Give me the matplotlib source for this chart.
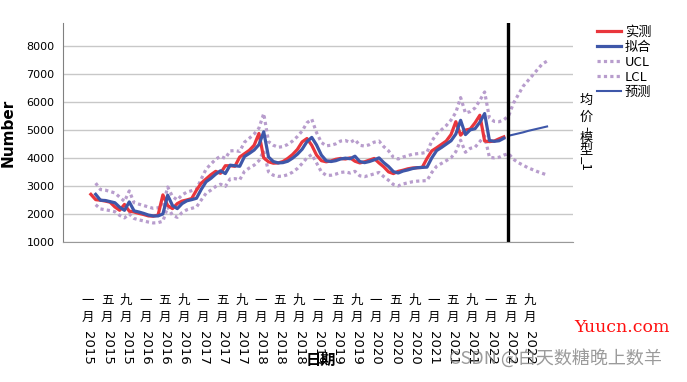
import matplotlib
matplotlib.use("Agg")
import matplotlib.pyplot as plt
import numpy as np

plt.rcParams['font.family'] = ['DejaVu Sans', 'Noto Sans CJK SC']

# monthly series, index 0 = Jan 2015
actual = [2700, 2510, 2490, 2460, 2420, 2250, 2130, 2340, 2100, 2070,
          2020, 1980, 1930, 1920, 1960, 2680, 2300, 2190, 2370, 2460,
          2500, 2550, 2850, 3100, 3250, 3400, 3520, 3450, 3720, 3720,
          3700, 4030, 4150, 4270, 4450, 4870, 4000, 3860, 3810, 3820,
          3870, 3980, 4120, 4300, 4570, 4690, 4450, 4100, 3900, 3860,
          3890, 3950, 3980, 3960, 4000, 3880, 3820, 3860, 3920, 3980,
          3820, 3680, 3500, 3440, 3520, 3560, 3610, 3640, 3650, 3660,
          3980, 4250, 4360, 4480, 4600, 4830, 5290, 4810, 4990, 5030,
          5250, 5520, 4600, 4580, 4600, 4680, 4750]

# fitted values start at month 1
fit = [2700, 2490, 2480, 2440, 2400, 2240, 2130, 2430, 2110, 2070,
       2020, 1960, 1930, 1930, 2000, 2670, 2300, 2190, 2370, 2470,
       2510, 2560, 2880, 3150, 3270, 3420, 3540, 3440, 3740, 3720,
       3700, 4050, 4160, 4280, 4470, 4930, 4030, 3870, 3820, 3830,
       3880, 3990, 4130, 4310, 4580, 4730, 4460, 4100, 3900, 3870,
       3900, 3960, 3990, 3970, 4060, 3870, 3830, 3870, 3930, 4000,
       3830, 3690, 3510, 3460, 3530, 3570, 3620, 3650, 3660, 3670,
       4000, 4260, 4370, 4490, 4610, 4850, 5340, 4830, 5000, 5040,
       5270, 5580, 4620, 4590, 4610, 4700]

# forecast, months 87..95
forecast = [4790, 4830, 4870, 4910, 4960, 5000, 5040, 5080, 5120]

# confidence limits, months 1..95
ucl = [3100, 2870, 2850, 2800, 2750, 2600, 2450, 2820, 2400, 2350,
       2300, 2250, 2200, 2220, 2300, 2960, 2620, 2500, 2680, 2780,
       2830, 2880, 3250, 3600, 3780, 3950, 4060, 3980, 4250, 4260,
       4230, 4560, 4700, 4850, 5060, 5580, 4580, 4450, 4380, 4400,
       4480, 4600, 4760, 4960, 5250, 5380, 4900, 4550, 4430, 4450,
       4500, 4600, 4620, 4550, 4650, 4450, 4420, 4470, 4560, 4600,
       4400, 4250, 4020, 3960, 4030, 4080, 4130, 4150, 4170, 4200,
       4600, 4850, 5000, 5150, 5350, 5620, 6150, 5600, 5650, 5780,
       6050, 6350, 5420, 5300, 5290, 5360,
       5500, 5950, 6250, 6550, 6750, 6950, 7150, 7350, 7450]
lcl = [2330, 2180, 2150, 2120, 2080, 1950, 1860, 2000, 1840, 1790,
       1750, 1710, 1680, 1690, 1740, 2250, 1950, 1880, 2050, 2150,
       2200, 2250, 2500, 2740, 2850, 2980, 3060, 2980, 3250, 3260,
       3220, 3520, 3640, 3740, 3900, 4250, 3500, 3380, 3340, 3350,
       3400, 3490, 3620, 3800, 4000, 4120, 3820, 3500, 3380, 3380,
       3420, 3480, 3500, 3460, 3520, 3360, 3330, 3380, 3430, 3480,
       3330, 3200, 3050, 3000, 3070, 3110, 3150, 3170, 3180, 3190,
       3480, 3700, 3800, 3900, 4000, 4220, 4630, 4200, 4340, 4380,
       4580, 4780, 4020, 4000, 4020, 4100,
       4150, 3950, 3830, 3740, 3650, 3580, 3510, 3450, 3390]

tick_months = ["一", "五", "九"] * 8
tick_years = [str(y) for y in range(2015, 2023) for _ in range(3)]

red = '#e9363c'
blue = '#3e57a9'
purple = '#b89dcd'

fig = plt.figure(figsize=(6.87, 3.82), dpi=100)
ax = fig.add_axes([63/687, 1-242/382, (573-63)/687, (242-23)/382])

t_act = np.arange(len(actual))
t_fit = np.arange(1, len(fit) + 1)
t_cl = np.arange(1, len(ucl) + 1)
t_fc = np.arange(len(actual), len(actual) + len(forecast))

for v in range(1000, 9000, 1000):
    ax.axhline(v, color='#c8c8c8', lw=1, zorder=0)

l_ucl, = ax.plot(t_cl, ucl, color=purple, lw=2.3, ls=(0, (1, 1)), label='UCL')
l_lcl, = ax.plot(t_cl, lcl, color=purple, lw=2.3, ls=(0, (1, 1)), label='LCL')
l_act, = ax.plot(t_act, actual, color=red, lw=2.3, label='实测')
l_fit, = ax.plot(t_fit, fit, color=blue, lw=2.3, label='拟合')
l_fc, = ax.plot(t_fc, forecast, color=blue, lw=1.5, label='预测')
ax.axvline(len(actual) - 0.1, color='black', lw=2.4)

ax.set_xlim(-5.8, 100.4)
ax.set_ylim(1000, 8810)
ax.set_yticks(range(1000, 9000, 1000))
ax.tick_params(axis='y', length=0, pad=6, labelsize=8)
ax.set_xticks([])
for s in ['top', 'right']:
    ax.spines[s].set_visible(False)
ax.spines['left'].set_color('#808080')
ax.spines['bottom'].set_color('#999999')
ax.set_ylabel('Number', fontsize=11, fontweight='bold', labelpad=8)

# vertical tick labels: month characters stacked, year rotated
cjk = ['Noto Sans CJK SC', 'DejaVu Sans']
for k, (m, y) in enumerate(zip(tick_months, tick_years)):
    pos = 4 * k
    for ch, dy in [(m, -42), ('月', -54)]:
        ax.annotate(ch, xy=(pos, 0), xycoords=('data', 'axes fraction'),
                    xytext=(-2.2, dy), textcoords='offset points',
                    ha='center', va='center', fontsize=9, family=cjk)
    ax.annotate(y, xy=(pos, 0), xycoords=('data', 'axes fraction'),
                xytext=(-2.2, -76), textcoords='offset points',
                ha='center', va='center', fontsize=9.5, rotation=-90)

fig.text(321/687, 1-360/382, '日期', ha='center', va='center',
         fontsize=11, fontweight='bold', family=cjk)

# right side vertical title
for ch, yy, rot in [('均', 100, 0), ('价', 117, 0), ('-', 128, -90),
                    ('模', 138, 0), ('型', 150, 0), ('_1', 163, -90)]:
    fig.text(586/687, 1-yy/382, ch, ha='center', va='center',
             fontsize=9.5, rotation=rot, family=cjk)

fig.legend(handles=[l_act, l_fit, l_ucl, l_lcl, l_fc],
           loc='upper left', bbox_to_anchor=(597/687, 1-26/382),
           frameon=False, handlelength=1.8, handletextpad=0.3,
           labelspacing=0.15, borderaxespad=0, borderpad=0,
           prop={'family': cjk, 'size': 9.5})

fig.text(622/687, 1-327/382, 'Yuucn.com', color='#ff1010', ha='center',
         va='center', fontsize=12.5, family='DejaVu Serif')
fig.text(555/687, 1-358/382, 'CSDN @白天数糖晚上数羊', color='#7a7a7a',
         alpha=0.75, ha='center', va='center', fontsize=13, family=cjk)

fig.savefig('out.png', dpi=100)
